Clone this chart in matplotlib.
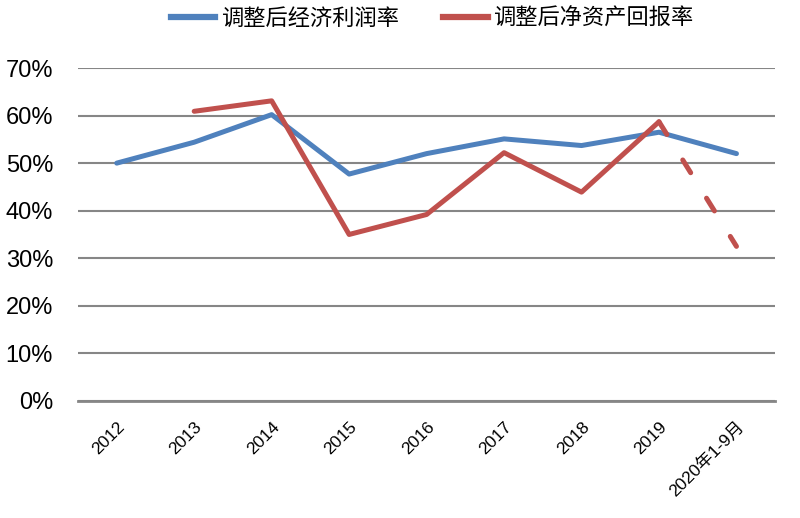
import matplotlib.pyplot as plt
from matplotlib.lines import Line2D

years = ['2012', '2013', '2014', '2015', '2016', '2017', '2018', '2019', '2020年1-9月']
econ_profit = [50.0, 54.4, 60.2, 47.7, 52.0, 55.1, 53.7, 56.5, 52.0]
roe_years = ['2013', '2014', '2015', '2016', '2017', '2018', '2019']
roe = [60.9, 63.1, 35.0, 39.2, 52.2, 43.9, 58.7]
roe_2020 = 32.5
yticks = [0, 10, 20, 30, 40, 50, 60, 70]

blue = '#4F81BD'
red = '#C0504D'
grid = '#868686'

plt.rcParams['font.family'] = ['Liberation Sans', 'Noto Sans CJK SC']

fig = plt.figure(figsize=(8, 5.18), dpi=100)
ax = fig.add_axes([0.0975, 0.226, 0.8715, 0.6427])

x = list(range(len(years)))
xr = [years.index(y) for y in roe_years]

ax.plot(x, econ_profit, color=blue, lw=3.6, solid_capstyle='round', solid_joinstyle='round', zorder=3)
ax.plot(xr, roe, color=red, lw=3.6, solid_capstyle='round', solid_joinstyle='round', zorder=4)
# 2020 value is for Jan-Sep only, drawn dashed
ax.plot([xr[-1], len(years) - 1], [roe[-1], roe_2020], color=red, lw=3.6,
        dashes=(3, 6), dash_capstyle='round', zorder=4)

ax.set_xlim(-0.5, len(years) - 0.5)
ax.set_ylim(0, 70)
ax.set_yticks(yticks)
ax.set_yticklabels([f'{v}%' for v in yticks], fontsize=17)
ax.yaxis.grid(True, color=grid, lw=1.5)
ax.set_axisbelow(True)
for s in ['top', 'right', 'left']:
    ax.spines[s].set_visible(False)
ax.spines['bottom'].set_color(grid)
ax.spines['bottom'].set_linewidth(2)
ax.tick_params(axis='y', length=0, pad=18)
ax.tick_params(axis='x', length=0, pad=13)
ax.set_xticks(x)
ax.set_xticklabels(years, rotation=45, ha='right', va='top', rotation_mode='anchor',
                   fontsize=12.5, family=['Liberation Sans', 'Noto Sans CJK SC'])

handles = [Line2D([], [], color=blue, lw=4.5), Line2D([], [], color=red, lw=4.5)]
fig.legend(handles, ['调整后经济利润率', '调整后净资产回报率'], loc='center', bbox_to_anchor=(0.54, 0.965),
           ncol=2, frameon=False, handlelength=2.0, handletextpad=0.25, columnspacing=2.0,
           prop={'family': ['Noto Sans CJK SC'], 'size': 16})

fig.savefig('out.png', dpi=100)
